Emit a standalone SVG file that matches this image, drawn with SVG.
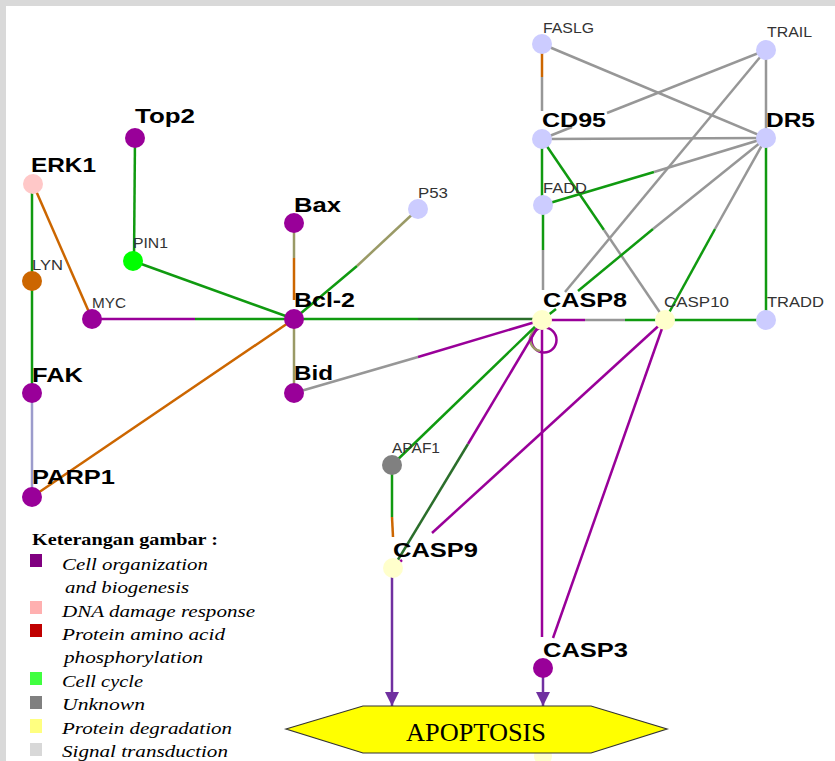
<svg xmlns="http://www.w3.org/2000/svg" width="835" height="761" viewBox="0 0 835 761">
  <defs>
    <style>
      .e { fill: none; stroke-width: 2.5; stroke-linecap: butt; }
      .g { stroke: #109a10; }
      .dg { stroke: #2b6e2b; }
      .p { stroke: #990099; }
      .gr { stroke: #979797; }
      .o { stroke: #cc6600; }
      .ol { stroke: #9a9a66; }
      .lv { stroke: #9c9ccc; }
      .arr { stroke: #7030a0; stroke-width: 2.5; fill: none; }
      .big { font-family: "Liberation Sans", Arial, sans-serif; font-weight: bold; font-size: 21px; fill: #000; }
      .sm { font-family: "Liberation Sans", Arial, sans-serif; font-size: 14px; fill: #333; }
      .leg { font-family: "Liberation Serif", "Times New Roman", serif; font-style: italic; font-size: 17px; fill: #000; }
      .legt { font-family: "Liberation Serif", "Times New Roman", serif; font-weight: bold; font-size: 17px; fill: #000; }
      .purple { fill: #990099; }
      .lav { fill: #ccccff; }
      .pale { fill: #ffffcc; }
    </style>
    <marker id="head" markerUnits="userSpaceOnUse" markerWidth="16" markerHeight="16" viewBox="0 0 16 16" refX="14" refY="8" orient="auto">
      <path d="M0,1 L14,8 L0,15 Z" fill="#7030a0"/>
    </marker>
  </defs>

  <!-- page frame -->
  <rect x="0" y="0" width="835" height="761" fill="#d9d9d9"/>
  <rect x="6" y="6" width="829" height="755" fill="#ffffff"/>

  <!-- connectors -->
  <g id="connectors">
    <line class="e g" x1="135" y1="138" x2="134" y2="261"/>
    <line class="e g" x1="133" y1="261" x2="294" y2="319"/>
    <line class="e g" x1="32" y1="184" x2="32" y2="281"/>
    <line class="e g" x1="32" y1="281" x2="32" y2="393"/>
    <line class="e o" x1="33" y1="184" x2="92" y2="319"/>
    <line class="e p" x1="92" y1="319" x2="195" y2="319"/>
    <line class="e g" x1="195" y1="319" x2="294" y2="319"/>
    <line class="e lv" x1="32" y1="393" x2="32" y2="497"/>
    <line class="e o" x1="32" y1="497" x2="294" y2="319"/>
    <line class="e ol" x1="294" y1="223" x2="294" y2="258"/>
    <line class="e o" x1="294" y1="258" x2="294" y2="300"/>
    <line class="e ol" x1="418" y1="209" x2="357" y2="266"/>
    <line class="e g" x1="357" y1="266" x2="294" y2="319"/>
    <line class="e ol" x1="294" y1="319" x2="294" y2="393"/>
    <line class="e g" x1="294" y1="319" x2="418" y2="319"/>
    <line class="e dg" x1="418" y1="319" x2="542" y2="319"/>
    <line class="e gr" x1="294" y1="393" x2="418" y2="357"/>
    <line class="e p" x1="418" y1="357" x2="542" y2="320"/>
    <circle class="e p" cx="544" cy="340" r="12.5"/>
    <path class="e ol" d="M538,327 Q527,336 531,344 Q534,350 540,351"/>
    <line class="e g" x1="542" y1="320" x2="392" y2="465"/>
    <line class="e p" x1="542" y1="320" x2="468" y2="444"/>
    <line class="e dg" x1="468" y1="444" x2="393" y2="568"/>
    <line class="e p" x1="542" y1="320" x2="542" y2="637"/>
    <line class="e p" x1="665" y1="320" x2="432" y2="533"/>
    <line class="e p" x1="402" y1="560" x2="393" y2="568"/>
    <line class="e p" x1="665" y1="320" x2="553" y2="638"/>
    <line class="e p" x1="542" y1="320" x2="585" y2="320"/>
    <line class="e gr" x1="585" y1="320" x2="625" y2="320"/>
    <line class="e g" x1="625" y1="320" x2="665" y2="320"/>
    <line class="e g" x1="665" y1="320" x2="766" y2="320"/>
    <line class="e g" x1="766" y1="138" x2="766" y2="320"/>
    <line class="e gr" x1="766" y1="50" x2="766" y2="138"/>
    <line class="e o" x1="542" y1="44" x2="542" y2="77"/>
    <line class="e gr" x1="542" y1="77" x2="542" y2="111"/>
    <line class="e gr" x1="542" y1="44" x2="766" y2="138"/>
    <line class="e gr" x1="766" y1="50" x2="607" y2="113"/>
    <line class="e gr" x1="572" y1="127" x2="542" y2="139"/>
    <line class="e gr" x1="766" y1="50" x2="565" y2="292"/>
    <line class="e gr" x1="542" y1="139" x2="766" y2="138"/>
    <line class="e g" x1="542" y1="139" x2="542" y2="205"/>
    <line class="e g" x1="542" y1="139" x2="604" y2="230"/>
    <line class="e gr" x1="604" y1="230" x2="665" y2="320"/>
    <line class="e g" x1="543" y1="205" x2="654" y2="172"/>
    <line class="e gr" x1="654" y1="172" x2="766" y2="138"/>
    <line class="e g" x1="543" y1="205" x2="543" y2="250"/>
    <line class="e gr" x1="543" y1="250" x2="543" y2="290"/>
    <line class="e gr" x1="766" y1="138" x2="653" y2="229"/>
    <line class="e g" x1="653" y1="229" x2="578" y2="291"/>
    <line class="e g" x1="556" y1="309" x2="542" y2="320"/>
    <line class="e gr" x1="766" y1="138" x2="715" y2="229"/>
    <line class="e g" x1="715" y1="229" x2="665" y2="320"/>
    <line class="e g" x1="392" y1="465" x2="392" y2="517"/>
    <line class="e o" x1="392" y1="517" x2="393" y2="537"/>
    <line class="arr" x1="392" y1="577" x2="392" y2="706" marker-end="url(#head)"/>
    <line class="arr" x1="543" y1="676" x2="543" y2="706" marker-end="url(#head)"/>
  </g>

  <!-- nodes -->
  <g id="node-Top2"><circle class="purple" cx="135" cy="138" r="10"/><text class="big" x="135" y="123" textLength="60" lengthAdjust="spacingAndGlyphs">Top2</text></g>
  <g id="node-ERK1"><circle fill="#ffc8c8" cx="33" cy="184" r="10"/><text class="big" x="31" y="172" textLength="65" lengthAdjust="spacingAndGlyphs">ERK1</text></g>
  <g id="node-LYN"><circle fill="#cc6600" cx="32" cy="281" r="10"/><text class="sm" x="32" y="270" textLength="31" lengthAdjust="spacingAndGlyphs">LYN</text></g>
  <g id="node-PIN1"><circle fill="#00ff00" cx="133" cy="261" r="10"/><text class="sm" x="133" y="248" textLength="35" lengthAdjust="spacingAndGlyphs">PIN1</text></g>
  <g id="node-MYC"><circle class="purple" cx="92" cy="319" r="10"/><text class="sm" x="92" y="308" textLength="34" lengthAdjust="spacingAndGlyphs">MYC</text></g>
  <g id="node-Bax"><circle class="purple" cx="294" cy="223" r="10"/><text class="big" x="294" y="212" textLength="47" lengthAdjust="spacingAndGlyphs">Bax</text></g>
  <g id="node-P53"><circle class="lav" cx="418" cy="209" r="10"/><text class="sm" x="418" y="198" textLength="30" lengthAdjust="spacingAndGlyphs">P53</text></g>
  <g id="node-Bcl2"><circle class="purple" cx="294" cy="319" r="10"/><text class="big" x="294" y="307" textLength="61" lengthAdjust="spacingAndGlyphs">Bcl-2</text></g>
  <g id="node-Bid"><circle class="purple" cx="294" cy="393" r="10"/><text class="big" x="294" y="380" textLength="39" lengthAdjust="spacingAndGlyphs">Bid</text></g>
  <g id="node-FAK"><circle class="purple" cx="32" cy="393" r="10"/><text class="big" x="32" y="382" textLength="51" lengthAdjust="spacingAndGlyphs">FAK</text></g>
  <g id="node-PARP1"><circle class="purple" cx="32" cy="497" r="10"/><text class="big" x="32" y="484" textLength="83" lengthAdjust="spacingAndGlyphs">PARP1</text></g>
  <g id="node-FASLG"><circle class="lav" cx="542" cy="44" r="10"/><text class="sm" x="543" y="33" textLength="51" lengthAdjust="spacingAndGlyphs">FASLG</text></g>
  <g id="node-TRAIL"><circle class="lav" cx="766" cy="50" r="10"/><text class="sm" x="767" y="37" textLength="45" lengthAdjust="spacingAndGlyphs">TRAIL</text></g>
  <g id="node-CD95"><circle class="lav" cx="542" cy="139" r="10"/><text class="big" x="542" y="127" textLength="64" lengthAdjust="spacingAndGlyphs">CD95</text></g>
  <g id="node-DR5"><circle class="lav" cx="766" cy="138" r="10"/><text class="big" x="766" y="127" textLength="49" lengthAdjust="spacingAndGlyphs">DR5</text></g>
  <g id="node-FADD"><circle class="lav" cx="543" cy="205" r="10"/><text class="sm" x="543" y="193" textLength="44" lengthAdjust="spacingAndGlyphs">FADD</text></g>
  <g id="node-CASP8"><circle class="pale" cx="542" cy="320" r="10"/><text class="big" x="543" y="307" textLength="84" lengthAdjust="spacingAndGlyphs">CASP8</text></g>
  <g id="node-CASP10"><circle class="pale" cx="665" cy="320" r="10"/><text class="sm" x="664" y="307" textLength="65" lengthAdjust="spacingAndGlyphs">CASP10</text></g>
  <g id="node-TRADD"><circle class="lav" cx="766" cy="320" r="10"/><text class="sm" x="767" y="307" textLength="57" lengthAdjust="spacingAndGlyphs">TRADD</text></g>
  <g id="node-APAF1"><circle fill="#808080" cx="392" cy="465" r="10"/><text class="sm" x="392" y="453" textLength="48" lengthAdjust="spacingAndGlyphs">APAF1</text></g>
  <g id="node-CASP9"><circle class="pale" cx="393" cy="568" r="10"/><text class="big" x="393" y="557" textLength="85" lengthAdjust="spacingAndGlyphs">CASP9</text></g>
  <g id="node-CASP3"><circle class="purple" cx="543" cy="668" r="10"/><text class="big" x="543" y="657" textLength="85" lengthAdjust="spacingAndGlyphs">CASP3</text></g>
  <g id="node-APOPTOSIS">
    <circle class="pale" cx="543" cy="756" r="9"/>
    <polygon points="286,729 363,706 591,706 667,729 591,753 363,753" fill="#ffff00" stroke="#333333" stroke-width="1.2"/>
    <text x="406" y="741" font-family="'Liberation Serif', 'Times New Roman', serif" font-size="25" fill="#000" textLength="140" lengthAdjust="spacingAndGlyphs">APOPTOSIS</text>
  </g>

  <!-- legend -->
  <g id="legend">
    <text class="legt" x="32" y="545" textLength="186" lengthAdjust="spacingAndGlyphs">Keterangan gambar :</text>
    <rect x="30" y="554" width="12" height="13" fill="#800080"/>
    <text class="leg" x="62" y="570" textLength="146" lengthAdjust="spacingAndGlyphs">Cell organization</text>
    <text class="leg" x="65" y="593" textLength="124" lengthAdjust="spacingAndGlyphs">and biogenesis</text>
    <rect x="30" y="601" width="12" height="13" fill="#ffb0b0"/>
    <text class="leg" x="62" y="617" textLength="193" lengthAdjust="spacingAndGlyphs">DNA damage response</text>
    <rect x="30" y="624" width="12" height="13" fill="#c00000"/>
    <text class="leg" x="62" y="640" textLength="163" lengthAdjust="spacingAndGlyphs">Protein amino acid</text>
    <text class="leg" x="64" y="663" textLength="139" lengthAdjust="spacingAndGlyphs">phosphorylation</text>
    <rect x="30" y="672" width="12" height="13" fill="#40ff40"/>
    <text class="leg" x="62" y="687" textLength="81" lengthAdjust="spacingAndGlyphs">Cell cycle</text>
    <rect x="30" y="696" width="12" height="13" fill="#808080"/>
    <text class="leg" x="62" y="710" textLength="83" lengthAdjust="spacingAndGlyphs">Unknown</text>
    <rect x="30" y="719" width="12" height="14" fill="#ffff80"/>
    <text class="leg" x="62" y="734" textLength="170" lengthAdjust="spacingAndGlyphs">Protein degradation</text>
    <rect x="30" y="743" width="12" height="13" fill="#d8d8d8"/>
    <text class="leg" x="62" y="757" textLength="166" lengthAdjust="spacingAndGlyphs">Signal transduction</text>
  </g>
</svg>
